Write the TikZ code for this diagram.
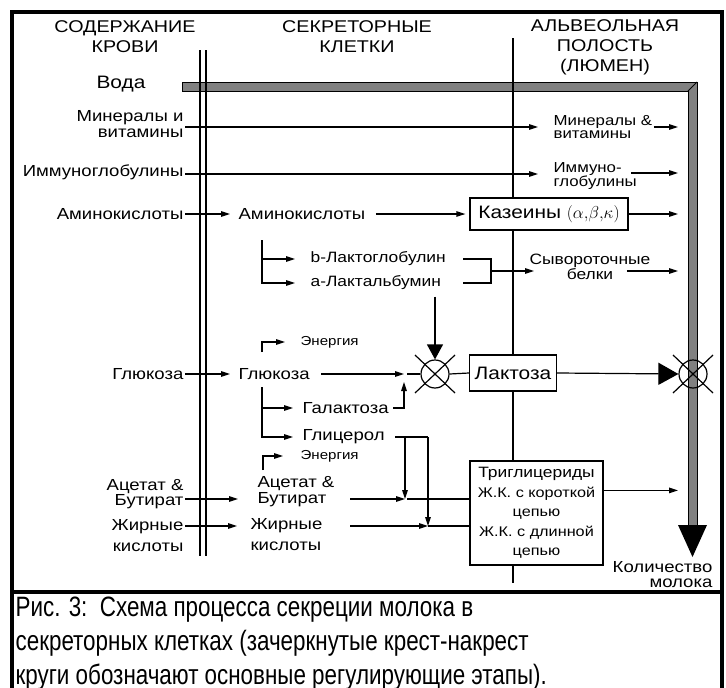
\documentclass[tikz,border=0pt]{standalone}
\usepackage{fontspec}
\setmainfont[FakeStretch=1.16]{Liberation Sans}
\newfontfamily\capfont[FakeStretch=0.80]{Liberation Sans}
\usetikzlibrary{arrows.meta, calc}
\definecolor{pipeGray}{HTML}{808080}
\tikzset{
arrowMe/.style={-{Triangle[length=9pt,width=5.5pt]}},
arrowBig/.style={-{Triangle[length=15pt,width=16pt]}},
arrowHuge/.style={-{Triangle[length=20pt,width=22pt]}},
labelMe/.style={inner sep=0pt, font=\fontsize{16}{14}\selectfont},
smallMe/.style={inner sep=0pt, font=\fontsize{14.5}{13}\selectfont},
tinyMe/.style={inner sep=0pt, font=\fontsize{13}{13}\selectfont},
headMe/.style={inner sep=0pt, align=center, font=\fontsize{17}{20}\selectfont},
boxMe/.style={draw, fill=white, inner sep=0pt},
crossMe/.style={circle, draw, minimum size=28pt, inner sep=0pt}
}

\begin{document}
\begin{tikzpicture}[x=1pt,y=-1pt,line width=1.2pt]
\useasboundingbox (0,0) rectangle (726,688);
% frame and caption rule
\draw[line width=4pt] (12,12) rectangle (722,705);
\draw[line width=4pt] (12,592) -- (722,592);

% water pipe
\filldraw[fill=pipeGray,line width=1pt] (182,82) -- (697,82) -- (697,525) -- (688,525) -- (688,91) -- (182,91) -- cycle;
\draw[line width=1pt] (688,91) -- (697,82);
\fill (678,525) -- (707,525) -- (692.5,557) -- cycle;
\coordinate (pipeL) at (678,0);

% membranes
\draw (200,50) -- (200,556);
\draw (206,50) -- (206,556);
\draw (513,38) -- (513,583);

% headers
\node[headMe] (hdrBlood) at (125,37) {СОДЕРЖАНИЕ\\КРОВИ};
\node[headMe] (hdrCell) at (357,37) {СЕКРЕТОРНЫЕ\\КЛЕТКИ};
\node[headMe] (hdrLumen) at (605,47) {АЛЬВЕОЛЬНАЯ\\ПОЛОСТЬ\\(ЛЮМЕН)};

% blood side
\node[labelMe, font=\fontsize{18}{18}\selectfont] (vodaL) at (121,84) {Вода};
\node[labelMe, anchor=east, align=right, font=\fontsize{16}{16}\selectfont] (minL) at (184,124) {Минералы и\\витамины};
\node[labelMe, anchor=east] (immL) at (184,172) {Иммуноглобулины};
\node[labelMe, anchor=east] (aminoL) at (184,214) {Аминокислоты};
\node[labelMe, anchor=east] (glucL) at (184,374) {Глюкоза};
\node[labelMe, anchor=east, align=right, font=\fontsize{16}{14}\selectfont] (acetL) at (184,494) {Ацетат \&\\Бутират};
\node[labelMe, anchor=east, align=right, font=\fontsize{16}{21}\selectfont] (fatL) at (184,536) {Жирные\\кислоты};

% cell side
\node[labelMe, anchor=west] (aminoM) at (238,214) {Аминокислоты};
\node[smallMe, font=\fontsize{15}{15}\selectfont, anchor=west] (bLG) at (310,259) {b-Лактоглобулин};
\node[smallMe, font=\fontsize{15}{15}\selectfont, anchor=west] (aLA) at (310,283) {a-Лактальбумин};
\node[tinyMe, anchor=west] (enerG) at (300,342) {Энергия};
\node[labelMe, anchor=west] (glucM) at (238,374) {Глюкоза};
\node[labelMe, anchor=west] (galac) at (302,408) {Галактоза};
\node[labelMe, anchor=west] (glyc) at (302,437) {Глицерол};
\node[tinyMe, anchor=west] (enerA) at (300,456) {Энергия};
\node[labelMe, anchor=west, align=left, font=\fontsize{16}{16}\selectfont] (acetM) at (257,492) {Ацетат \&\\Бутират};
\node[labelMe, anchor=west, align=left, font=\fontsize{16}{21}\selectfont] (fatM) at (250,535) {Жирные\\кислоты};

% lumen side
\node[boxMe, minimum width=158pt, minimum height=32pt, font=\fontsize{18}{18}\selectfont] (kazein) at (549,214) {Казеины $(\alpha{,}\beta{,}\kappa)$};
\node[boxMe, minimum width=87pt, minimum height=36pt, font=\fontsize{18}{18}\selectfont] (lact) at (513,373) {Лактоза};
\node[boxMe, minimum width=133pt, minimum height=104pt, align=center, font=\fontsize{14}{19.5}\selectfont] (trig) at (536.5,513) {{\fontsize{15}{19.5}\selectfont Триглицериды}\\Ж.К. с короткой\\цепью\\Ж.К. с длинной\\цепью};
\node[smallMe, anchor=west, align=left] (minR) at (553,127) {Минералы \&\\витамины};
\node[smallMe, anchor=west, align=left] (immR) at (553,176) {Иммуно-\\глобулины};
\node[smallMe, font=\fontsize{15}{13}\selectfont, align=center] (whey) at (590,267) {Сывороточные\\белки};
\node[labelMe, anchor=east, align=right, font=\fontsize{16}{15}\selectfont] (milk) at (713,575) {Количество\\молока};

% regulating steps
\node[crossMe] (cLac) at (435,374) {};
\node[crossMe] (cMilk) at (693,374) {};
\foreach \c in {cLac,cMilk}{
  \draw (\c.center) +(-20,-19) -- +(20,19);
  \draw (\c.center) +(-20,19) -- +(20,-19);
}

% minerals, immunoglobulins
\draw[arrowMe] ($(minL.east)+(1,3)$) -- ($(minR.west)+(-15,0)$);
\draw[arrowMe] ($(minR.east)+(1,0)$) -- (minR.east -| pipeL);
\draw[arrowMe] ($(immL.east)+(1,2)$) -- ($(immR.west)+(-15,-2)$);
\draw[arrowMe] ($(immR.east)+(-6,-3)$) -- ($(immR.east -| pipeL)+(0,-3)$);

% proteins
\draw[arrowMe, shorten >=8pt, shorten <=1pt] (aminoL.east) -- (aminoM.west);
\draw[arrowMe, shorten <=10pt, shorten >=4pt] (aminoM.east) -- (kazein.west);
\draw[arrowMe] (kazein.east) -- (kazein.east -| pipeL);
\draw[arrowMe, shorten >=15pt] ($(aminoM.west)+(24,26)$) |- (bLG.west);
\draw[arrowMe, shorten >=15pt] ($(aminoM.west)+(24,26)$) |- (aLA.west);
\coordinate (brkX) at (463,0);
\coordinate (wheyJ) at (491,271);
\draw (bLG.east -| brkX) -| (wheyJ) |- (aLA.east -| brkX);
\draw[arrowMe] (wheyJ) -- ($(wheyJ -| whey.west)+(5,0)$);
\draw[arrowMe] ($(wheyJ -| whey.east)+(-24,0)$) -- (wheyJ -| pipeL);
\draw[arrowBig, shorten <=6pt] (aLA.south -| cLac) -- (cLac.north);

% lactose
\coordinate (galJ) at (404,374);
\draw[arrowMe, shorten >=15pt] ($(glucM.west)+(24,-22)$) |- (enerG.west);
\draw[arrowMe, shorten >=8pt, shorten <=1pt] (glucL.east) -- (glucM.west);
\draw[arrowMe, shorten <=11pt] (glucM.east) -- (galJ);
\draw ([xshift=3pt]galJ) -- (cLac.west);
\draw[arrowMe, shorten >=9pt] ($(glucM.west)+(24,13)$) |- (galac.west);
\draw[arrowMe, shorten >=9pt] ($(glucM.west)+(24,13)$) |- (glyc.west);
\draw[arrowMe] ([xshift=4pt]galac.east) -| ([yshift=-8pt]galJ);
\draw (cLac.east) -- (lact.west);
\draw[arrowHuge] (lact.east) -- (cMilk.west);

% fat
\coordinate (glyA) at (405,437);
\coordinate (glyB) at (428,437);
\coordinate (acJ) at (405,499);
\coordinate (fatJ) at (428,526);
\draw ([xshift=10pt]glyc.east) -- (glyB);
\draw[arrowMe] (glyA) -- (acJ);
\draw[arrowMe] (glyB) -- (fatJ);
\draw[arrowMe, shorten >=17pt] ($(acetM.west)+(6,-22)$) |- (enerA.west);
\draw[arrowMe, shorten >=19pt, shorten <=1pt] (acetL.east |- acJ) -- (acetM.west |- acJ);
\draw[arrowMe, shorten >=13pt, shorten <=1pt] (fatL.east |- fatJ) -- (fatM.west |- fatJ);
\draw[arrowMe] ($(acJ)+(-55,0)$) -- (acJ);
\draw ($(acJ)+(2,0)$) -- (acJ -| trig.west);
\draw[arrowMe] ($(fatJ)+(-78,0)$) -- (fatJ);
\draw (fatJ) -- (fatJ -| trig.west);
\draw[arrowMe] ($(trig.north east)+(0,30)$) -- ($(trig.north east -| pipeL)+(0,30)$);

% caption
\node[anchor=north west, inner sep=0pt, align=left, font=\capfont\fontsize{28}{34}\selectfont] (caption) at (15,596) {Рис. 3:\ \ Схема процесса секреции молока в\\секреторных клетках (зачеркнутые крест-накрест\\круги обозначают основные регулирующие этапы).};
\end{tikzpicture}
\end{document}
